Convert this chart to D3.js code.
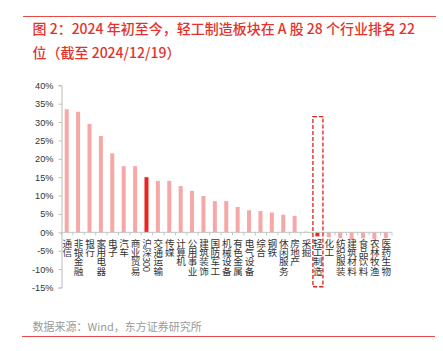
<!DOCTYPE html>
<html><head><meta charset="utf-8">
<script src="https://cdn.jsdelivr.net/npm/d3@7"></script>
<style>
html,body{margin:0;padding:0;background:#fff;}
svg{display:block;}
</style></head>
<body>
<svg id="c" width="443" height="351"></svg>
<script>
const categories = ["通信","非银金融","银行","家用电器","电子","汽车","商业贸易","沪深300","交通运输","传媒","计算机","公用事业","建筑装饰","国防军工","机械设备","有色金属","电气设备","综合","钢铁","休闲服务","房地产","采掘","轻工制造","化工","纺织服装","建筑材料","食品饮料","农林牧渔","医药生物"];
const values = [33.5,32.8,29.5,26.2,21.5,18.0,18.0,15.0,14.0,14.0,12.6,11.3,9.9,8.5,8.5,6.9,6.0,5.8,5.4,4.8,4.5,0.2,-1.1,-1.3,-1.6,-1.8,-1.6,-1.8,-1.6];
const highlight = ["沪深300","轻工制造"];
const boxed = "轻工制造";
const yTicks = [-15,-10,-5,0,5,10,15,20,25,30,35,40];
const title1 = "图 2：2024 年初至今，轻工制造板块在 A 股 28 个行业排名 22";
const title2 = "位（截至 2024/12/19）";
const source = "数据来源：Wind，东方证券研究所";

const svg = d3.select("#c");
const red = "#e3322c";

// frame lines
svg.append("line").attr("x1",23).attr("x2",436).attr("y1",16.5).attr("y2",16.5).attr("stroke","#e84a45").attr("stroke-width",1);
svg.append("line").attr("x1",22).attr("x2",435).attr("y1",336.5).attr("y2",336.5).attr("stroke","#e84a45").attr("stroke-width",1);

const tf = "'Noto Sans CJK SC','Noto Sans',sans-serif";
svg.append("text").attr("x",32.5).attr("y",34).attr("fill",red).attr("font-family",tf).attr("font-weight",500).attr("font-size",14).text(title1);
svg.append("text").attr("x",32.5).attr("y",58).attr("fill",red).attr("font-family",tf).attr("font-weight",500).attr("font-size",14).text(title2);

const x = d3.scaleBand().domain(categories).range([61.5,392]).padding(0);
const y = d3.scaleLinear().domain([-15,40]).range([287.5,85.3]);

// y axis
const yAxis = d3.axisLeft(y).tickValues(yTicks).tickSize(3).tickPadding(5).tickFormat(d=>d+"%");
const ga = svg.append("g").attr("transform","translate(61.5,0)").call(yAxis);
ga.select(".domain").attr("stroke","#bdbdbd");
ga.selectAll(".tick line").attr("stroke","#bdbdbd");
ga.selectAll(".tick text").attr("fill","#333").attr("font-family","'Liberation Sans',Arial,sans-serif").attr("font-size",9.2);

// bars
const bw = 4;
svg.append("g").selectAll("rect").data(categories).join("rect")
  .attr("x",(d)=>x(d)+x.bandwidth()/2-bw/2-0.5)
  .attr("width",bw)
  .attr("y",(d,i)=>y(Math.max(0,values[i])))
  .attr("height",(d,i)=>Math.abs(y(values[i])-y(0)))
  .attr("fill",d=>highlight.includes(d)?"#e8251f":"#f5a8a5");

// zero axis with band ticks
const gx = svg.append("g").attr("transform",`translate(0,${y(0)})`);
gx.append("line").attr("x1",61.5).attr("x2",392).attr("stroke","#c4c4c4");
gx.selectAll("line.t").data(categories.concat(["__end"])).join("line").attr("class","t")
  .attr("x1",(d,i)=>i<categories.length?x(d):x.range()[1]).attr("x2",(d,i)=>i<categories.length?x(d):x.range()[1])
  .attr("y1",0).attr("y2",3).attr("stroke","#c4c4c4");

// vertical category labels (one text per label, vertical writing)
const lf = "'Noto Sans CJK SC',sans-serif";
svg.append("g").selectAll("text").data(categories).join("text")
  .attr("x",d=>x(d)+x.bandwidth()/2)
  .attr("y",238.5)
  .attr("font-family",lf).attr("font-size",9.6).attr("fill","#333")
  .attr("letter-spacing",-0.4)
  .style("writing-mode","vertical-rl")
  .style("text-orientation","mixed")
  .text(d=>d);

// dashed highlight box
const bx = x(boxed);
svg.append("rect").attr("x",bx+0.7).attr("y",y(31.5)).attr("width",x.bandwidth()-1.4).attr("height",y(-14.8)-y(31.5))
  .attr("fill","none").attr("stroke","#e0201a").attr("stroke-width",1.3).attr("stroke-dasharray","4,2");

// source
svg.append("text").attr("x",32.5).attr("y",331).attr("fill","#9a9a9a").attr("font-family",tf).attr("font-size",11).text(source);
</script>
</body></html>
